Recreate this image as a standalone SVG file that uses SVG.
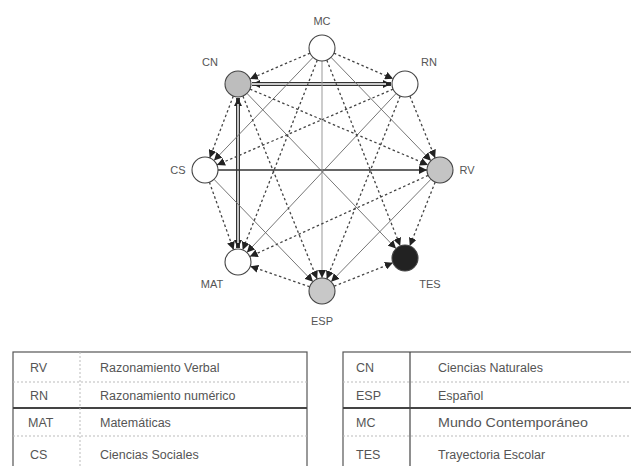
<svg xmlns="http://www.w3.org/2000/svg" width="631" height="466" viewBox="0 0 631 466">
<defs>
<marker id="ah" markerUnits="userSpaceOnUse" markerWidth="9" markerHeight="8" refX="8" refY="4" orient="auto"><path d="M0,0 L8,4 L0,8 Z" fill="#222"/></marker>
<marker id="ahs" markerUnits="userSpaceOnUse" markerWidth="9" markerHeight="8" refX="8" refY="4" orient="auto-start-reverse"><path d="M0,0 L8,4 L0,8 Z" fill="#222"/></marker>
</defs>
<style>
text{font-family:"Liberation Sans",Arial,sans-serif;fill:#555}
.lbl{font-size:11px;text-anchor:middle}
.tt{font-size:12.5px}
.node{stroke:#444;stroke-width:1.1}
.dash{stroke:#444;stroke-width:1.3;stroke-dasharray:2.5,2.5;fill:none;marker-end:url(#ah)}
.sol{stroke:#666;stroke-width:0.9;fill:none;marker-end:url(#ah)}
.dbl{stroke:#333;stroke-width:4;fill:none}
.dblin{stroke:#fff;stroke-width:1.4;fill:none}
.grid{stroke:#555;stroke-width:1.2;fill:none}
.sep{stroke:#bbb;stroke-width:1;stroke-dasharray:2,2}
.thick{stroke:#444;stroke-width:2}
</style>
<rect width="631" height="466" fill="#fff"/>
<g id="connectors">
<line class="dbl" x1="252" y1="84" x2="391" y2="84" marker-start="url(#ahs)" marker-end="url(#ah)"/>
<line class="dblin" x1="252" y1="84" x2="386" y2="84"/>
<line class="dbl" x1="238" y1="98" x2="238" y2="248" marker-start="url(#ahs)" marker-end="url(#ah)"/>
<line class="dblin" x1="238" y1="104" x2="238" y2="243"/>
<line x1="218" y1="170" x2="427" y2="170" stroke="#333" stroke-width="1.6" marker-end="url(#ah)"/>
<line x1="322" y1="61" x2="322" y2="278" stroke="#999" stroke-width="1" marker-end="url(#ah)"/>
<line class="sol" x1="247" y1="93.4" x2="396" y2="248.6"/>
<line class="sol" x1="396.1" y1="93.5" x2="246.9" y2="252.5"/>
<line class="sol" x1="313" y1="57.4" x2="214" y2="160.6"/>
<line class="sol" x1="331" y1="57.3" x2="431" y2="160.7"/>
<line class="sol" x1="214" y1="179.3" x2="313" y2="281.7"/>
<line class="sol" x1="430.9" y1="179.3" x2="331.1" y2="281.7"/>
<line class="dash" x1="310.1" y1="53.1" x2="249.9" y2="78.9"/>
<line class="dash" x1="333.9" y1="53.2" x2="393.1" y2="78.8"/>
<line class="dash" x1="317.3" y1="60.1" x2="242.7" y2="249.9"/>
<line class="dash" x1="326.8" y1="60.1" x2="400.2" y2="245.9"/>
<line class="dash" x1="233.3" y1="96.1" x2="209.7" y2="157.9"/>
<line class="dash" x1="409.9" y1="96.1" x2="435.1" y2="157.9"/>
<line class="dash" x1="250" y1="89.1" x2="428" y2="164.9"/>
<line class="dash" x1="393.1" y1="89.1" x2="217" y2="164.9"/>
<line class="dash" x1="242.9" y1="96.1" x2="317.1" y2="278.9"/>
<line class="dash" x1="400.2" y1="96.1" x2="326.8" y2="278.9"/>
<line class="dash" x1="209.4" y1="182.2" x2="233.6" y2="249.8"/>
<line class="dash" x1="435.2" y1="182.1" x2="409.8" y2="245.9"/>
<line class="dash" x1="428.2" y1="175.4" x2="249.8" y2="256.6"/>
<line class="dash" x1="309.7" y1="286.8" x2="250.3" y2="266.2"/>
<line class="dash" x1="334.1" y1="286.2" x2="392.9" y2="262.8"/>
</g>
<g id="MC"><circle class="node" cx="322" cy="48" r="13" fill="#fff"/><text class="lbl" x="322" y="25">MC</text></g>
<g id="CN"><circle class="node" cx="238" cy="84" r="13" fill="#bdbdbd"/><text class="lbl" x="210" y="66">CN</text></g>
<g id="RN"><circle class="node" cx="405" cy="84" r="13" fill="#fff"/><text class="lbl" x="429" y="66">RN</text></g>
<g id="CS"><circle class="node" cx="205" cy="170" r="13" fill="#fff"/><text class="lbl" x="178" y="174">CS</text></g>
<g id="RV"><circle class="node" cx="440" cy="170" r="13" fill="#c4c4c4"/><text class="lbl" x="467" y="174">RV</text></g>
<g id="MAT"><circle class="node" cx="238" cy="262" r="13" fill="#fff"/><text class="lbl" x="212" y="288">MAT</text></g>
<g id="ESP"><circle class="node" cx="322" cy="291" r="13" fill="#c8c8c8"/><text class="lbl" x="322" y="325">ESP</text></g>
<g id="TES"><circle class="node" cx="405" cy="258" r="13" fill="#222"/><text class="lbl" x="430" y="288">TES</text></g>
<g id="table-left">
<rect class="grid" x="13" y="352" width="294" height="120"/>
<line class="sep" x1="13" y1="382" x2="307" y2="382"/>
<line class="thick" x1="13" y1="408" x2="307" y2="408"/>
<line class="sep" x1="13" y1="436" x2="307" y2="436"/>
<line class="sep" x1="80" y1="352" x2="80" y2="466"/>
<text class="tt" x="30" y="372">RV</text><text class="tt" x="100" y="372">Razonamiento Verbal</text>
<text class="tt" x="30" y="400">RN</text><text class="tt" x="100" y="400">Razonamiento numérico</text>
<text class="tt" x="28" y="427">MAT</text><text class="tt" x="100" y="427">Matemáticas</text>
<text class="tt" x="30" y="459">CS</text><text class="tt" x="100" y="459">Ciencias Sociales</text>
</g>
<g id="table-right">
<rect class="grid" x="343" y="352" width="300" height="120"/>
<line class="sep" x1="343" y1="382" x2="631" y2="382"/>
<line class="thick" x1="343" y1="408" x2="631" y2="408"/>
<line class="sep" x1="343" y1="436" x2="631" y2="436"/>
<line x1="410" y1="352" x2="410" y2="466" stroke="#444" stroke-width="1.2"/>
<text class="tt" x="356" y="372">CN</text><text class="tt" x="438" y="372">Ciencias Naturales</text>
<text class="tt" x="356" y="400">ESP</text><text class="tt" x="438" y="400">Español</text>
<text class="tt" x="356" y="427">MC</text><text class="tt" x="438" y="427" textLength="150" lengthAdjust="spacingAndGlyphs">Mundo Contemporáneo</text>
<text class="tt" x="356" y="459">TES</text><text class="tt" x="438" y="459">Trayectoria Escolar</text>
</g>
</svg>
